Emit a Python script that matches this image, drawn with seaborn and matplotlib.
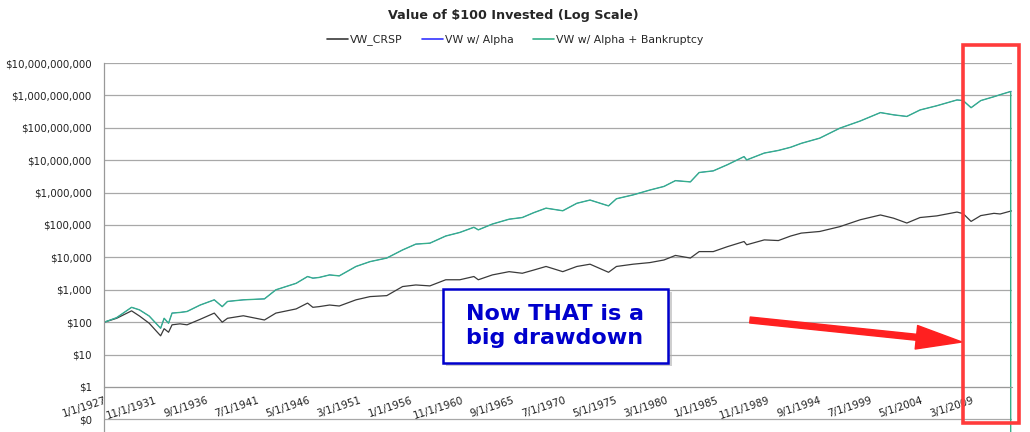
import pandas as pd
import seaborn as sns
import matplotlib
import matplotlib.pyplot as plt
from matplotlib.lines import Line2D
from matplotlib.patches import Rectangle

# month of each reading
dates = ["1927-01", "1928-03", "1929-08", "1930-05", "1931-04", "1932-05", "1932-09",
         "1933-02", "1933-06", "1934-03", "1934-11", "1936-02", "1937-06", "1938-03",
         "1938-09", "1940-03", "1942-03", "1943-04", "1945-03", "1946-04", "1946-10",
         "1947-05", "1948-05", "1949-04", "1950-11", "1952-03", "1953-10", "1955-04",
         "1956-07", "1957-11", "1959-05", "1960-09", "1962-01", "1962-06", "1963-10",
         "1965-05", "1966-08", "1967-09", "1968-11", "1970-06", "1971-10", "1973-01",
         "1974-10", "1975-07", "1977-02", "1978-09", "1980-01", "1981-02", "1982-07",
         "1983-05", "1984-09", "1986-01", "1987-08", "1987-11", "1989-07", "1990-11",
         "1992-01", "1993-01", "1994-10", "1996-09", "1998-08", "2000-07", "2001-10",
         "2003-01", "2004-04", "2005-11", "2007-10", "2008-05", "2009-02", "2010-01",
         "2011-04", "2011-11", "2012-11", "2012-12"]

vw_crsp = [100, 132, 224, 155, 93, 38, 63,
           49, 83, 89, 83, 123, 191, 100,
           132, 158, 117, 191, 257, 389, 288,
           302, 339, 316, 490, 617, 661, 1260,
           1410, 1320, 2040, 2040, 2570, 2040, 2880,
           3630, 3240, 4070, 5250, 3630, 5250, 6170,
           3470, 5250, 6170, 6920, 8320, 11500, 9550,
           15100, 15100, 21400, 30900, 24500, 34700, 33100,
           45700, 56200, 63100, 89100, 145000, 204000, 162000,
           115000, 170000, 191000, 251000, 224000, 129000, 195000,
           229000, 219000, 269000, 272000]

vw_alpha = [100, 138, 288, 240, 155, 65, 132,
            93, 191, 200, 214, 339, 490, 302,
            437, 490, 525, 1000, 1585, 2570, 2290,
            2400, 2880, 2690, 5250, 7410, 9550, 17000,
            25700, 27500, 45700, 58900, 85100, 70800, 107000,
            151000, 170000, 240000, 331000, 275000, 468000, 589000,
            389000, 646000, 851000, 1.20e6, 1.55e6, 2.34e6, 2.14e6,
            4.17e6, 4.68e6, 7.24e6, 12.9e6, 10.2e6, 16.6e6, 20.0e6,
            25.1e6, 33.1e6, 47.9e6, 97.7e6, 162e6, 295e6, 251e6,
            224e6, 355e6, 479e6, 724e6, 692e6, 417e6, 692e6,
            912e6, 1.05e9, 1.32e9, 1.35e9]

# same path, but wiped out in the final month
vw_alpha_bankrupt = vw_alpha[:-1] + [0.0]

y_ticks = [0.1, 1, 10, 100, 1e3, 1e4, 1e5, 1e6, 1e7, 1e8, 1e9, 1e10]
y_labels = ["$0", "$1", "$10", "$100", "$1,000", "$10,000", "$100,000", "$1,000,000",
            "$10,000,000", "$100,000,000", "$1,000,000,000", "$10,000,000,000"]

def month_index(d):
    y, m = d.split("-")
    return (int(y) - 1927) * 12 + int(m) - 1

df = pd.DataFrame({"month": [month_index(d) for d in dates],
                   "VW_CRSP": vw_crsp,
                   "VW w/ Alpha": vw_alpha,
                   "VW w/ Alpha + Bankruptcy": vw_alpha_bankrupt})

sns.set_style("white")
plt.rcParams['font.family'] = ['DejaVu Sans']
plt.rcParams['text.parse_math'] = False

colors = {"VW_CRSP": "#3a3a3a", "VW w/ Alpha": "#3333ff", "VW w/ Alpha + Bankruptcy": "#35b08a"}
widths = {"VW_CRSP": 0.9, "VW w/ Alpha": 0.5, "VW w/ Alpha + Bankruptcy": 1.0}

fig = plt.figure(figsize=(10.3, 4.32), dpi=100)
ax = fig.add_axes([104.3 / 1030, 0, (1012 - 104.3) / 1030, (432 - 63) / 432])

for name in colors:
    sns.lineplot(data=df, x="month", y=name, estimator=None, color=colors[name],
                 linewidth=widths[name], ax=ax)

ax.set_yscale("log")
ax.set_ylim(10 ** -1.389, 1e10)
ax.set_xlim(0, month_index("2012-12") + 0.5)

# axis line sits at $1, as in the spreadsheet chart
for s in ["top", "right"]:
    ax.spines[s].set_visible(False)
ax.spines["bottom"].set_position(("data", 1))
ax.spines["bottom"].set_color("#999999")
ax.spines["left"].set_color("#999999")
ax.spines["left"].set_linewidth(0.9)

ax.set_yticks(y_ticks)
ax.set_yticklabels(y_labels, fontsize=7.4, color="#222222")
ax.minorticks_off()
ax.yaxis.grid(True, color="#a8a8a8", linewidth=0.9)
ax.tick_params(axis="y", length=5, width=0.8, color="#999999", pad=4)

# category-style date ticks every 58 months
xt = list(range(0, 1000, 58))
xl = ["%d/1/%d" % ((t % 12) + 1, 1927 + t // 12) for t in xt]
ax.set_xticks(xt)
ax.tick_params(axis="x", length=4, width=0.8, color="#999999", direction="out", pad=2)
ax.set_xticklabels(xl, fontsize=7.4, color="#222222", rotation=18, ha="right",
                   rotation_mode="anchor")
ax.set_xlabel("")
ax.set_ylabel("")

fig.text(513 / 1030, 1 - 15 / 432, "Value of $100 Invested (Log Scale)", ha="center",
         va="center", fontsize=9.2, fontweight="bold")

handles = [Line2D([], [], color=colors[n], linewidth=1.2) for n in colors]
fig.legend(handles, list(colors.keys()), loc="center", bbox_to_anchor=(515 / 1030, 1 - 40 / 432),
           ncol=3, frameon=False, fontsize=7.8, handlelength=1.9, handletextpad=0.2,
           columnspacing=1.8)

# callout box with a shadow
fig.patches.append(Rectangle((446 / 1030, (432 - 366) / 432), 226 / 1030, 74 / 432,
                             transform=fig.transFigure, facecolor="#b0b0b0", edgecolor="none",
                             alpha=0.6, zorder=5))
fig.patches.append(Rectangle((442.7 / 1030, (432 - 363.3) / 432), 225.6 / 1030, 74 / 432,
                             transform=fig.transFigure, facecolor="white", edgecolor="#0000cc",
                             linewidth=1.8, zorder=6))
fig.text(555 / 1030, 1 - 326 / 432, "Now THAT is a\nbig drawdown", ha="center", va="center",
         fontsize=16, fontweight="bold", color="#0000cc", linespacing=1.2, zorder=7)

ax.annotate("", xy=(962 / 1030, 1 - 342 / 432), xytext=(750 / 1030, 1 - 320 / 432),
            xycoords="figure fraction", textcoords="figure fraction",
            arrowprops=dict(arrowstyle="simple,head_length=3.3,head_width=1.7,tail_width=0.43",
                            color="#ff2020", mutation_scale=10, shrinkA=0, shrinkB=0),
            annotation_clip=False, zorder=8)

fig.patches.append(Rectangle((962.5 / 1030, (432 - 423) / 432), 56 / 1030, 378 / 432,
                             transform=fig.transFigure, facecolor="none", edgecolor="#ff3b3b",
                             linewidth=2.6, zorder=8))

plt.savefig("out.png", dpi=100)
